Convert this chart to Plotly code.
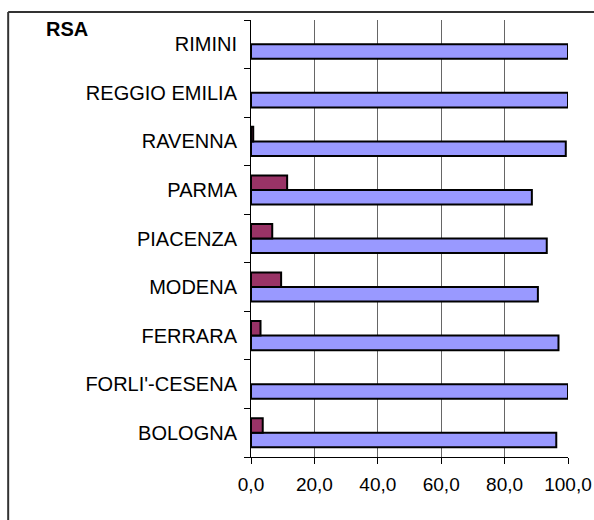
import plotly.graph_objects as go

# categories bottom -> top
province = ["BOLOGNA", "FORLI'-CESENA", "FERRARA", "MODENA", "PIACENZA",
            "PARMA", "RAVENNA", "REGGIO EMILIA", "RIMINI"]
quota_blu = [96.3, 100.0, 97.0, 90.5, 93.3, 88.6, 99.3, 100.0, 100.0]
quota_rossa = [3.7, 0.0, 3.0, 9.5, 6.7, 11.4, 0.7, 0.0, 0.0]
x_ticks = [0, 20, 40, 60, 80, 100]

FONT = "Arial, Liberation Sans, sans-serif"


def outline(vals):
    # no outline on empty bars, otherwise a stray stroke shows at zero
    return [2 if v > 0 else 0 for v in vals]


fig = go.Figure()
fig.add_trace(go.Bar(
    y=province, x=quota_blu, orientation="h",
    marker=dict(color="#9999FF", line=dict(color="black", width=outline(quota_blu))),
))
fig.add_trace(go.Bar(
    y=province, x=quota_rossa, orientation="h",
    marker=dict(color="#993366", line=dict(color="black", width=outline(quota_rossa))),
))

# outer frame (only left and top edges fall inside the picture)
fig.add_shape(type="line", xref="paper", yref="paper",
              x0=-0.766, x1=1.2, y0=1.0183, y1=1.0183,
              line=dict(color="#333333", width=2))
fig.add_shape(type="line", xref="paper", yref="paper",
              x0=-0.766, x1=-0.766, y0=1.0183, y1=-0.2,
              line=dict(color="#333333", width=2))

fig.add_annotation(text="<b>RSA</b>", xref="paper", yref="paper",
                   x=-0.652, y=0.98, xanchor="left", yanchor="middle",
                   showarrow=False, font=dict(family=FONT, size=20, color="black"))

fig.update_xaxes(
    range=[0, 100], tickvals=x_ticks, tickformat=".1f",
    showline=True, linecolor="black", linewidth=1,
    ticks="outside", ticklen=6, tickcolor="black",
    showgrid=True, gridcolor="#666666", gridwidth=1, zeroline=False,
    ticklabelstandoff=4, automargin=False,
    tickfont=dict(family=FONT, size=19, color="black"),
)
fig.update_yaxes(
    type="category", range=[-0.5, 8.5],
    showline=True, linecolor="black", linewidth=1,
    ticks="outside", ticklen=6, tickcolor="black", tickson="boundaries",
    showgrid=False, zeroline=False,
    ticklabelstandoff=9, automargin=False,
    tickfont=dict(family=FONT, size=20, color="black"),
)
fig.update_layout(
    width=594, height=520,
    margin=dict(l=251, r=26, t=20, b=63),
    barmode="group", bargap=0.4, bargroupgap=0,
    separators=",.",
    showlegend=False,
    plot_bgcolor="white", paper_bgcolor="white",
    font=dict(family=FONT),
)

# drop the browser's default body margin so the figure fills the window
fig.write_html("out.html",
               config={"displayModeBar": False},
               post_script="document.body.style.margin='0';"
                           "document.body.style.overflow='hidden';")
